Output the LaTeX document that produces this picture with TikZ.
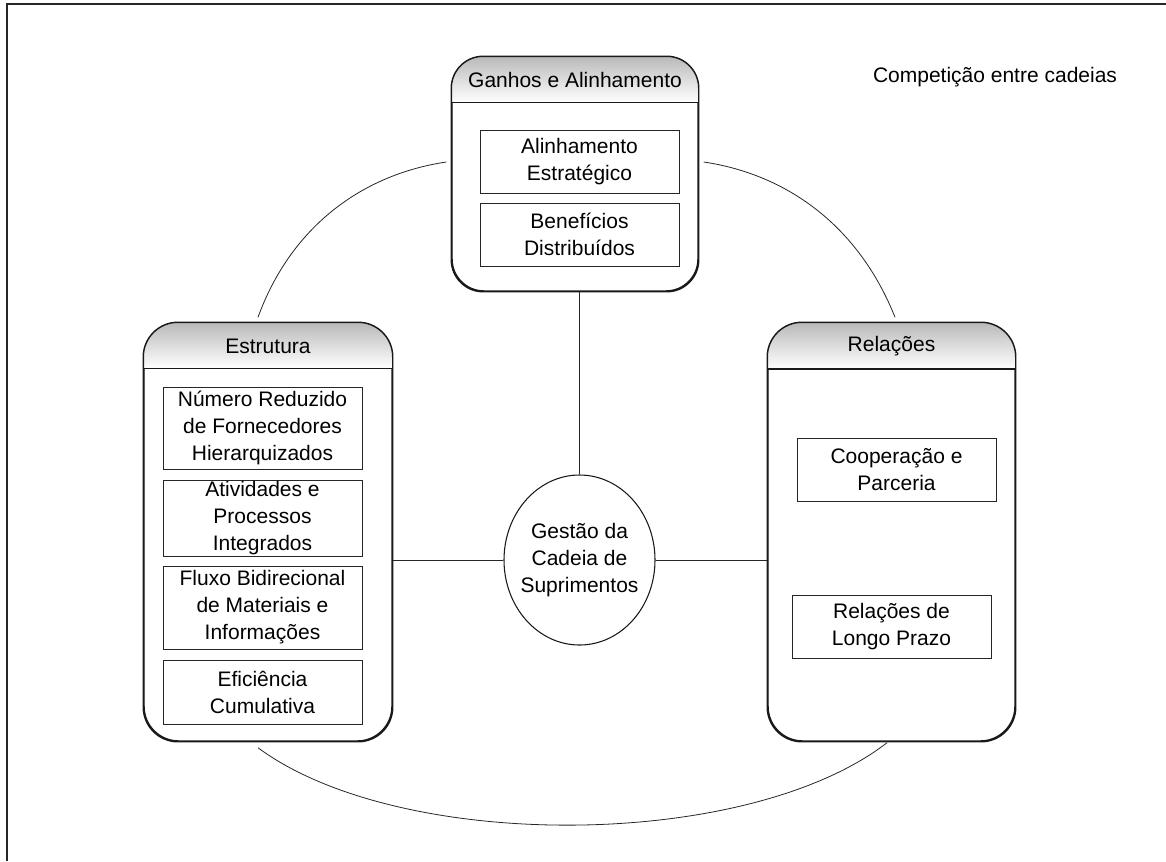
\documentclass[tikz,border=0pt]{standalone}
\usepackage{fontspec}
\setmainfont{Liberation Sans}
\usetikzlibrary{shapes.geometric}
\tikzset{
  wh/.style 2 args={minimum width=#1*0.75pt, minimum height=#2*0.75pt},
  txt/.style={font=\fontsize{15.75pt}{20.25pt}\selectfont, align=center, inner sep=0pt},
  outerbox/.style={draw=black!90, line width=1.1pt, rounded corners=#1, inner sep=0pt},
  hshade/.style={top color=gray!55, middle color=gray!25, bottom color=white},
  hline/.style={draw=black!90, line width=1pt},
  itembox/.style={draw=black!85, line width=0.7pt, inner sep=0pt,
      font=\fontsize{15.75pt}{20.25pt}\selectfont, align=center},
  conn/.style={draw=black!85, line width=0.6pt},
  frame/.style={draw=black!85, line width=1.4pt},
}
\begin{document}
\begin{tikzpicture}[x=0.75pt, y=-0.75pt]
\useasboundingbox (0,0) rectangle (1166,861);
% frame (top and left)
\coordinate (fr1) at (1166,4);
\coordinate (fr2) at (7,4);
\coordinate (fr3) at (7,861);
\draw[frame] (fr1) -- (fr2) -- (fr3);

% Ganhos e Alinhamento
\node[outerbox=24pt, wh={246}{234}] (gan) at (575,174) {};
\begin{scope}
  \clip[rounded corners=24pt] (gan.north west) rectangle (gan.south east);
  \shade[hshade] (gan.north west) rectangle ([yshift=-34.5pt]gan.north east);
\end{scope}
\draw[hline] ([yshift=-34.5pt]gan.north west) -- ([yshift=-34.5pt]gan.north east);
\draw[outerbox=24pt] (gan.north west) rectangle (gan.south east);
\node[txt] (gant) at (575,80) {Ganhos e Alinhamento};
\node[itembox, wh={199}{63}] (a1) at (579.5,161.5) {Alinhamento\\Estratégico};
\node[itembox, wh={199}{63}] (a2) at (579.5,234.5) {Benefícios\\Distribuídos};

% Estrutura
\node[outerbox=26pt, wh={248}{418}] (est) at (268,532) {};
\begin{scope}
  \clip[rounded corners=26pt] (est.north west) rectangle (est.south east);
  \shade[hshade] (est.north west) rectangle ([yshift=-34.5pt]est.north east);
\end{scope}
\draw[hline] ([yshift=-34.5pt]est.north west) -- ([yshift=-34.5pt]est.north east);
\draw[outerbox=26pt] (est.north west) rectangle (est.south east);
\node[txt] (estt) at (268,346) {Estrutura};
\node[itembox, wh={199}{82}] (e1) at (262.5,428) {Número Reduzido\\de Fornecedores\\Hierarquizados};
\node[itembox, wh={199}{76}] (e2) at (262.5,518) {Atividades e\\Processos\\Integrados};
\node[itembox, wh={199}{83}] (e3) at (262.5,607.5) {Fluxo Bidirecional\\de Materiais e\\Informações};
\node[itembox, wh={199}{64}] (e4) at (262.5,692) {Eficiência\\Cumulativa};

% Relações
\node[outerbox=26pt, wh={247}{418}] (rel) at (891.5,532) {};
\begin{scope}
  \clip[rounded corners=26pt] (rel.north west) rectangle (rel.south east);
  \shade[hshade] (rel.north west) rectangle ([yshift=-35pt]rel.north east);
\end{scope}
\draw[hline] ([yshift=-35pt]rel.north west) -- ([yshift=-35pt]rel.north east);
\draw[outerbox=26pt] (rel.north west) rectangle (rel.south east);
\node[txt] (relt) at (891.5,346) {Relações};
\node[itembox, wh={199}{63}] (r1) at (896.5,469.5) {Cooperação e\\Parceria};
\node[itembox, wh={199}{63}] (r2) at (891.5,626.5) {Relações de\\Longo Prazo};

% centre ellipse
\node[ellipse, draw=black!90, line width=0.8pt, inner sep=0pt, wh={151}{170}] (gcs) at (579.5,560) {};
\node[txt] (gcst) at (gcs.center) {Gestão da\\Cadeia de\\Suprimentos};

% title
\node[txt] (comp) at (995,77) {Competição entre cadeias};

% straight connectors
\draw[conn] (gcs.north) -- (gcs.north |- gan.south);
\draw[conn] (gcs.west) -- (gcs.west -| est.east);
\draw[conn] (gcs.east) -- (gcs.east -| rel.west);

% curved connectors
\coordinate (tl1) at ([shift={(-10,-5)}]est.north);
\coordinate (tl2) at ([shift={(-5,-12)}]gan.west);
\coordinate (tr1) at ([shift={(5,-12)}]gan.east);
\coordinate (tr2) at ([shift={(3.5,-5)}]rel.north);
\coordinate (b1) at ([shift={(-10,6)}]est.south);
\coordinate (b2) at ([shift={(-4.5,1)}]rel.south);
\draw[conn] (tl1) .. controls +(32,-88) and +(-87,13) .. (tl2);
\draw[conn] (tr1) .. controls +(87,13) and +(-35,-88) .. (tr2);
\draw[conn] (b1) .. controls +(142,105) and +(-140,108) .. (b2);
\end{tikzpicture}
\end{document}
